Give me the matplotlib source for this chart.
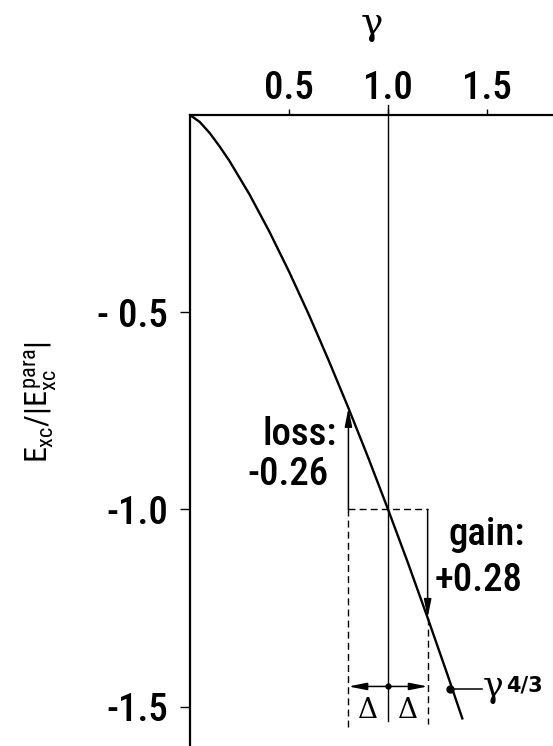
# exchange-correlation energy vs gamma, with loss/gain construction
import matplotlib as mpl
import matplotlib.pyplot as plt
from matplotlib import font_manager

# curve (E_xc / |E_xc^para| against gamma)
gamma = [0.0, 0.05, 0.1, 0.15, 0.2, 0.3, 0.4, 0.5, 0.6, 0.7, 0.8, 0.9,
         1.0, 1.1, 1.2, 1.3, 1.375]
e_xc = [0.0, -0.018, -0.046, -0.080, -0.117, -0.201, -0.295, -0.397,
        -0.506, -0.622, -0.743, -0.869, -1.0, -1.135, -1.275, -1.419, -1.53]

x_ticks = [0.5, 1.0, 1.5]
x_tick_labels = ['0.5', '1.0', '1.5']
y_ticks = [-0.5, -1.0, -1.5]
y_tick_labels = ['- 0.5', '-1.0', '-1.5']

g0 = 1.0           # reference gamma
delta = 0.2        # +/- Delta
e_loss = -0.743    # curve at g0 - delta
e_gain = -1.275    # curve at g0 + delta
marker_pt = (1.313, -1.455)   # dot on the curve for gamma^{4/3} label

# pick a condensed font that is installed
names = {f.name for f in font_manager.fontManager.ttflist}
narrow = 'DejaVu Sans'
for cand in ['Roboto Condensed', 'Archivo Narrow', 'IBM Plex Sans Condensed',
             'Fira Sans Condensed', 'Barlow Semi Condensed', 'Liberation Sans Narrow']:
    if cand in names:
        narrow = cand
        break
mpl.rcParams['font.family'] = [narrow, 'DejaVu Sans']
mpl.rcParams['font.weight'] = 'medium'
mpl.rcParams['mathtext.fontset'] = 'custom'
mpl.rcParams['mathtext.rm'] = narrow + ':weight=normal'
mpl.rcParams['mathtext.it'] = narrow + ':weight=normal'
mpl.rcParams['mathtext.bf'] = narrow + ':weight=bold'

fig = plt.figure(figsize=(5.53, 7.46), dpi=100)
ax = fig.add_axes([190 / 553, 0, 363 / 553, 631 / 746])
ax.set_xlim(0, 1.833)
ax.set_ylim(-1.60, 0)

ax.spines['right'].set_visible(False)
ax.spines['bottom'].set_visible(False)
ax.spines['top'].set_linewidth(1.6)
ax.spines['left'].set_linewidth(1.6)
ax.xaxis.tick_top()
ax.xaxis.set_label_position('top')
ax.set_xticks(x_ticks)
ax.set_xticklabels(x_tick_labels, fontsize=28)
ax.set_yticks(y_ticks)
ax.set_yticklabels(y_tick_labels, fontsize=28)
ax.tick_params(axis='x', direction='out', length=4, width=1, pad=2)
ax.tick_params(axis='y', direction='out', length=7, width=1, pad=9)

ax.set_xlabel('γ', fontsize=27, labelpad=26, family='DejaVu Serif',
              fontweight='normal')
ax.set_ylabel(r'$E_{\mathrm{xc}}/|E_{\mathrm{xc}}^{\mathrm{para}}|$', fontsize=23,
              fontweight='normal')
ax.yaxis.set_label_coords(-0.36, 0.545)

# the curve
ax.plot(gamma, e_xc, color='black', lw=1.7)

# vertical line at gamma = 1
ax.plot([g0, g0], [0.025, -1.536], color='black', lw=1, clip_on=False)

# dashed box
ax.plot([g0 - delta, g0 + delta], [-1.0, -1.0], color='black', lw=1, ls=(0, (5, 3)))
ax.plot([g0 - delta, g0 - delta], [-1.0, -1.553], color='black', lw=1, ls=(0, (5, 3)))
ax.plot([g0 + delta, g0 + delta], [e_gain, -1.543], color='black', lw=1, ls=(0, (5, 3)))

arrow = dict(arrowstyle='-|>,head_length=1.1,head_width=0.22', color='black',
             lw=1.1, shrinkA=0, shrinkB=0)
ax.annotate('', xy=(g0 - delta, e_loss), xytext=(g0 - delta, -1.0), arrowprops=arrow)
ax.annotate('', xy=(g0 + delta, e_gain), xytext=(g0 + delta, -1.0), arrowprops=arrow)

# delta arrows
y_d = -1.449
ax.annotate('', xy=(g0 - delta, y_d), xytext=(g0, y_d), arrowprops=arrow)
ax.annotate('', xy=(g0 + delta, y_d), xytext=(g0, y_d), arrowprops=arrow)
ax.plot([g0], [y_d], 'o', color='black', ms=3.5)
ax.text(g0 - delta / 2, -1.51, 'Δ', fontsize=20, ha='center', va='center',
        family='DejaVu Serif', fontweight='normal')
ax.text(g0 + delta / 2, -1.51, 'Δ', fontsize=20, ha='center', va='center',
        family='DejaVu Serif', fontweight='normal')

# gamma^{4/3} marker
ax.plot([marker_pt[0]], [marker_pt[1]], 'o', color='black', ms=5)
ax.plot([marker_pt[0], 1.475], [marker_pt[1], marker_pt[1]], color='black', lw=1.1)
ax.text(1.48, -1.477, 'γ', fontsize=25, ha='left', va='baseline',
        family='DejaVu Serif', fontweight='normal')
ax.text(1.595, -1.447, '4/3', fontsize=15, ha='left', va='center',
        fontweight='bold', family='DejaVu Sans')

# loss / gain labels
ax.text(0.364, -0.838, 'loss:', fontsize=28, ha='left', va='baseline')
ax.text(0.288, -0.939, '-0.26', fontsize=28, ha='left', va='baseline')
ax.text(1.303, -1.091, 'gain:', fontsize=28, ha='left', va='baseline')
ax.text(1.237, -1.206, '+0.28', fontsize=28, ha='left', va='baseline')

plt.savefig('out.png', dpi=100)
